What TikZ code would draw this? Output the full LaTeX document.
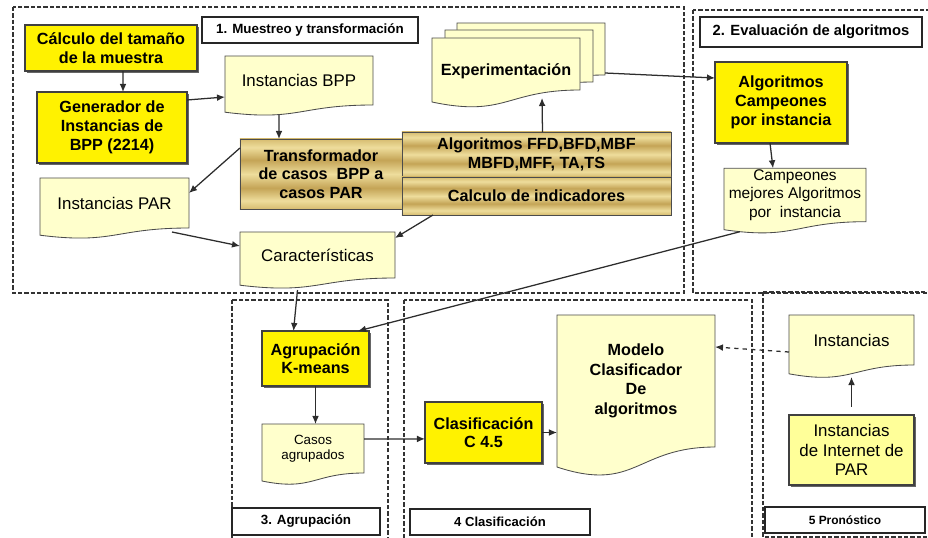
\documentclass[tikz,border=0pt]{standalone}
\usepackage{fontspec}
\setmainfont{Liberation Sans}
\usetikzlibrary{arrows.meta,backgrounds,shadows}
\definecolor{docfill}{RGB}{255,255,204}
\definecolor{pale}{RGB}{255,255,153}
\definecolor{glt}{RGB}{238,221,156}
\definecolor{gmd}{RGB}{214,188,112}
\definecolor{gdk}{RGB}{196,164,86}
\definecolor{lnc}{RGB}{45,45,45}
\pgfdeclareverticalshading{goldbar}{100bp}{color(0bp)=(gmd); color(25bp)=(gmd); color(31bp)=(glt); color(40bp)=(gdk); color(50bp)=(glt); color(60bp)=(gdk); color(69bp)=(glt); color(75bp)=(gmd); color(100bp)=(gmd)}

\begin{document}
\begin{tikzpicture}[x=0.025cm, y=-0.025cm, >={Latex[length=2mm,width=1.7mm]},
  every node/.style={align=center, inner sep=1pt, outer sep=0pt},
  ybox/.style={draw=black!75, line width=.8pt, fill=yellow, font=\bfseries\fontsize{11.5}{13.3}\selectfont,
    drop shadow={shadow xshift=1.3pt, shadow yshift=-1.3pt, fill=black!60, opacity=1}},
  gbox/.style={draw=black!70, line width=.6pt, shading=goldbar, font=\bfseries\fontsize{11.5}{13.3}\selectfont},
  doc/.style={font=\fontsize{12}{13}\selectfont},
  docline/.style={draw=black!70, line width=.6pt, fill=docfill},
  tbox/.style={draw=black!85, line width=1.3pt, fill=white, font=\bfseries\fontsize{9.5}{11}\selectfont},
  zone/.style={draw=black!80, line width=1pt, dash pattern=on 3pt off 1.5pt},
  link/.style={->, draw=lnc, line width=.9pt}]
\useasboundingbox (0,0) rectangle (928,538);

% zonas
\draw[zone] (13,7) rectangle (684,293);
\draw[zone] (693,10) rectangle (940,293);
\draw[zone] (232,300) rectangle (388,545);
\draw[zone] (404,300) rectangle (752,545);
\draw[zone] (763,292) -- (763,537) -- (940,537);
\draw[zone] (763,292) -- (940,292);

% titulos
\node[tbox, minimum width=5.4cm, minimum height=.65cm] (t1) at (310,30) {1. Muestreo y transformación};
\node[tbox, minimum width=5.55cm, minimum height=.75cm, font=\bfseries\fontsize{10.5}{12}\selectfont] (t2) at (811,32) {2. Evaluación de algoritmos};
\node[tbox, minimum width=3.7cm, minimum height=.675cm] (t3) at (306,521.5) {3. Agrupación};
\node[tbox, minimum width=4.5cm, minimum height=.65cm, font=\bfseries\fontsize{9.3}{11}\selectfont] (t4) at (500,522) {4 Clasificación};
\node[tbox, minimum width=4cm, minimum height=.65cm, font=\bfseries\fontsize{8.5}{10}\selectfont] (t5) at (845,520) {5 Pronóstico};

% 1. muestreo y transformacion
\node[ybox, minimum width=4.3cm, minimum height=1.15cm] (calc) at (111,48) {Cálculo del tamaño\\de la muestra};
\node[ybox, minimum width=3.75cm, minimum height=1.775cm] (gen) at (112,127.5) {Generador de\\Instancias de\\BPP (2214)};
\node[doc, minimum width=3.7cm, minimum height=1.225cm] (ibpp) at (299,80.5) {Instancias BPP};
\node[gbox, minimum width=4.05cm, minimum height=1.75cm] (trans) at (321,174) {Transformador\\de casos~ BPP a\\casos PAR};
\node[gbox, minimum width=6.725cm, minimum height=1.125cm] (alg) at (536.5,154.5) {Algoritmos FFD,BFD,MBF\\MBFD,MFF, TA,TS};
\node[gbox, minimum width=6.725cm, minimum height=.95cm] (ind) at (536.5,196) {Calculo de indicadores};
\node[doc, minimum width=3.725cm, minimum height=1.25cm] (ipar) at (114.5,203) {Instancias PAR};
\node[doc, minimum width=3.875cm, minimum height=1.15cm] (car) at (317.5,255) {Características};
\node[doc, minimum width=3.7cm, minimum height=1.3cm] (exp3) at (531,49) {};
\node[doc, minimum width=3.7cm, minimum height=1.3cm] (exp2) at (519,56) {};
\node[doc, minimum width=3.7cm, minimum height=1.3cm, font=\bfseries\fontsize{11.5}{13}\selectfont,
  text height=19pt, text depth=2.4pt] (exp) at (506,64) {Experimentación};

% 2. evaluacion
\node[ybox, minimum width=3.3cm, minimum height=2.025cm] (camp) at (781,102.5) {Algoritmos\\Campeones\\por instancia};
\node[doc, minimum width=3.55cm, minimum height=1.25cm, font=\fontsize{11}{13}\selectfont] (champ) at (795,195) {Campeones\\mejores Algoritmos\\por~ instancia};

% 3. agrupacion
\node[ybox, minimum width=2.675cm, minimum height=1.375cm] (agr) at (315.5,358.5) {Agrupación\\K-means};
\node[doc, minimum width=2.55cm, minimum height=1.225cm, font=\fontsize{9.5}{11}\selectfont] (casos) at (313,448.5) {Casos\\agrupados};

% 4. clasificacion
\node[ybox, minimum width=2.925cm, minimum height=1.525cm] (clas) at (483.5,432.5) {Clasificación\\C 4.5};
\node[doc, minimum width=3.95cm, minimum height=3.3cm, font=\bfseries\fontsize{11.5}{14}\selectfont] (modelo) at (636,381) {Modelo\\Clasificador\\De\\algoritmos};

% 5. pronostico
\node[doc, minimum width=3.125cm, minimum height=1.25cm] (inst) at (851.5,340) {Instancias};
\node[ybox, fill=pale, minimum width=3.125cm, minimum height=1.75cm, font=\fontsize{12}{14}\selectfont] (inet) at (851.5,450) {Instancias\\de Internet de\\PAR};

% documentos (borde ondulado)
\begin{scope}[on background layer]
\foreach \n/\d in {ibpp/.18cm, ipar/.18cm, car/.18cm, exp3/.3cm, exp2/.3cm, exp/.3cm, champ/.2cm, casos/.2cm, modelo/.5cm, inst/.22cm}
  \filldraw[docline] (\n.north west) -- (\n.north east) -- (\n.south east)
    .. controls (\n.south) and ([yshift=-2.3*\d]\n.south) .. ([yshift=-\d]\n.south west) -- cycle;
\end{scope}

% flechas
\draw[link] ([xshift=.3cm]calc.south) -- ([xshift=.275cm]gen.north);
\draw[link] ([yshift=-.2cm]gen.north east) -- ([yshift=-1.025cm]ibpp.north west);
\draw[link] ([xshift=-.5cm,yshift=-.25cm]ibpp.south) -- ([xshift=-1.05cm]trans.north);
\draw[link] ([yshift=-.225cm]trans.north west) -- ([yshift=-.375cm]ipar.north east);
\draw[link] ([xshift=-.425cm,yshift=-.1cm]ipar.south east) -- ([yshift=-.35cm]car.north west);
\draw[link] ([xshift=.775cm]ind.south west) -- ([yshift=-.15cm]car.north east);
\draw[link] ([xshift=.15cm]alg.north) -- ([xshift=.9cm,yshift=-.2cm]exp.south);
\draw[link] ([yshift=.05cm]exp3.south east) -- ([yshift=-.4cm]camp.north west);
\draw[link] ([xshift=-.275cm]camp.south) -- ([xshift=-.55cm]champ.north);
\draw[link] ([xshift=.4cm,yshift=-.25cm]champ.south west) -- ([xshift=-.275cm]agr.north east);
\draw[link] ([xshift=-.5cm,yshift=-.3cm]car.south) -- ([xshift=-.55cm]agr.north);
\draw[link] (agr.south) -- (agr.south |- casos.north);
\draw[link] ([yshift=.24cm]casos.east) -- ([yshift=-.16cm]clas.west);
\draw[link] (clas.east) -- (clas.east -| modelo.west);
\draw[link, dashed] ([yshift=-.3cm]inst.west) -- ([yshift=.85cm]modelo.east);
\draw[link] ([yshift=.2cm]inet.north) -- ([yshift=-.3cm]inst.south);
\end{tikzpicture}
\end{document}
